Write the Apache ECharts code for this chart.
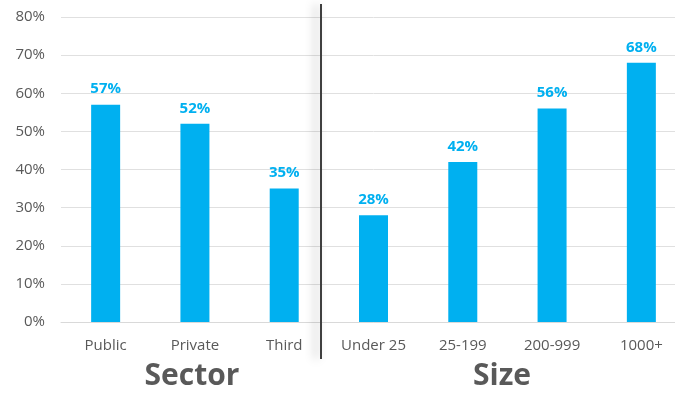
<!DOCTYPE html>
<html>
<head>
<meta charset="utf-8">
<style>
  html, body { margin: 0; padding: 0; background: #ffffff; width: 675px; height: 393px; overflow: hidden; }
  /* the plot runs slightly past the right edge of the page */
  #chart { width: 686px; height: 393px; }
</style>
<script src="https://cdn.jsdelivr.net/npm/echarts@6/dist/echarts.min.js"></script>
</head>
<body>
<div id="chart"></div>
<script>
// Share of organisations, by sector and by size
const categories = ['Public', 'Private', 'Third', 'Under 25', '25-199', '200-999', '1000+'];
const values = [57, 52, 35, 28, 42, 56, 68];
const groupLabels = ['Sector', 'Size'];
const yTicks = [0, 10, 20, 30, 40, 50, 60, 70, 80];

const BLUE = '#00B0F0';
const GREY = '#595959';
const FONT = '"Open Sans", "Noto Sans", sans-serif';

const chart = echarts.init(document.getElementById('chart'));

chart.setOption({
  animation: false,
  grid: { left: 61, top: 17, right: 0, bottom: 71 },
  xAxis: {
    type: 'category',
    data: categories,
    axisTick: { show: false },
    axisLine: { lineStyle: { color: '#d9d9d9', width: 1 } },
    axisLabel: { color: GREY, fontSize: 15, fontFamily: FONT, margin: 16 }
  },
  yAxis: {
    type: 'value',
    min: yTicks[0],
    max: yTicks[yTicks.length - 1],
    interval: 10,
    axisLine: { show: false },
    axisTick: { show: false },
    splitLine: { lineStyle: { color: '#e0e0e0', width: 1 } },
    axisLabel: { color: GREY, fontSize: 15, fontFamily: FONT, margin: 16, formatter: '{value}%' }
  },
  series: [{
    type: 'bar',
    data: values,
    barWidth: 29,
    itemStyle: { color: BLUE },
    label: {
      show: true,
      position: 'top',
      distance: 8,
      color: BLUE,
      fontSize: 15,
      fontWeight: 'bold',
      fontFamily: FONT,
      formatter: '{c}%'
    }
  }],
  graphic: [
    {
      type: 'line',
      shape: { x1: 321, y1: 4, x2: 321, y2: 359 },
      style: {
        stroke: '#3f3f3f',
        lineWidth: 2,
        shadowBlur: 10,
        shadowColor: 'rgba(0,0,0,0.35)',
        shadowOffsetX: -5
      },
      z: 100
    },
    {
      type: 'text',
      x: 192,
      y: 376,
      style: {
        text: groupLabels[0],
        fill: GREY,
        font: 'bold 30px ' + FONT,
        textAlign: 'center',
        textVerticalAlign: 'middle'
      }
    },
    {
      type: 'text',
      x: 502,
      y: 376,
      style: {
        text: groupLabels[1],
        fill: GREY,
        font: 'bold 30px ' + FONT,
        textAlign: 'center',
        textVerticalAlign: 'middle'
      }
    }
  ]
});
</script>
</body>
</html>
